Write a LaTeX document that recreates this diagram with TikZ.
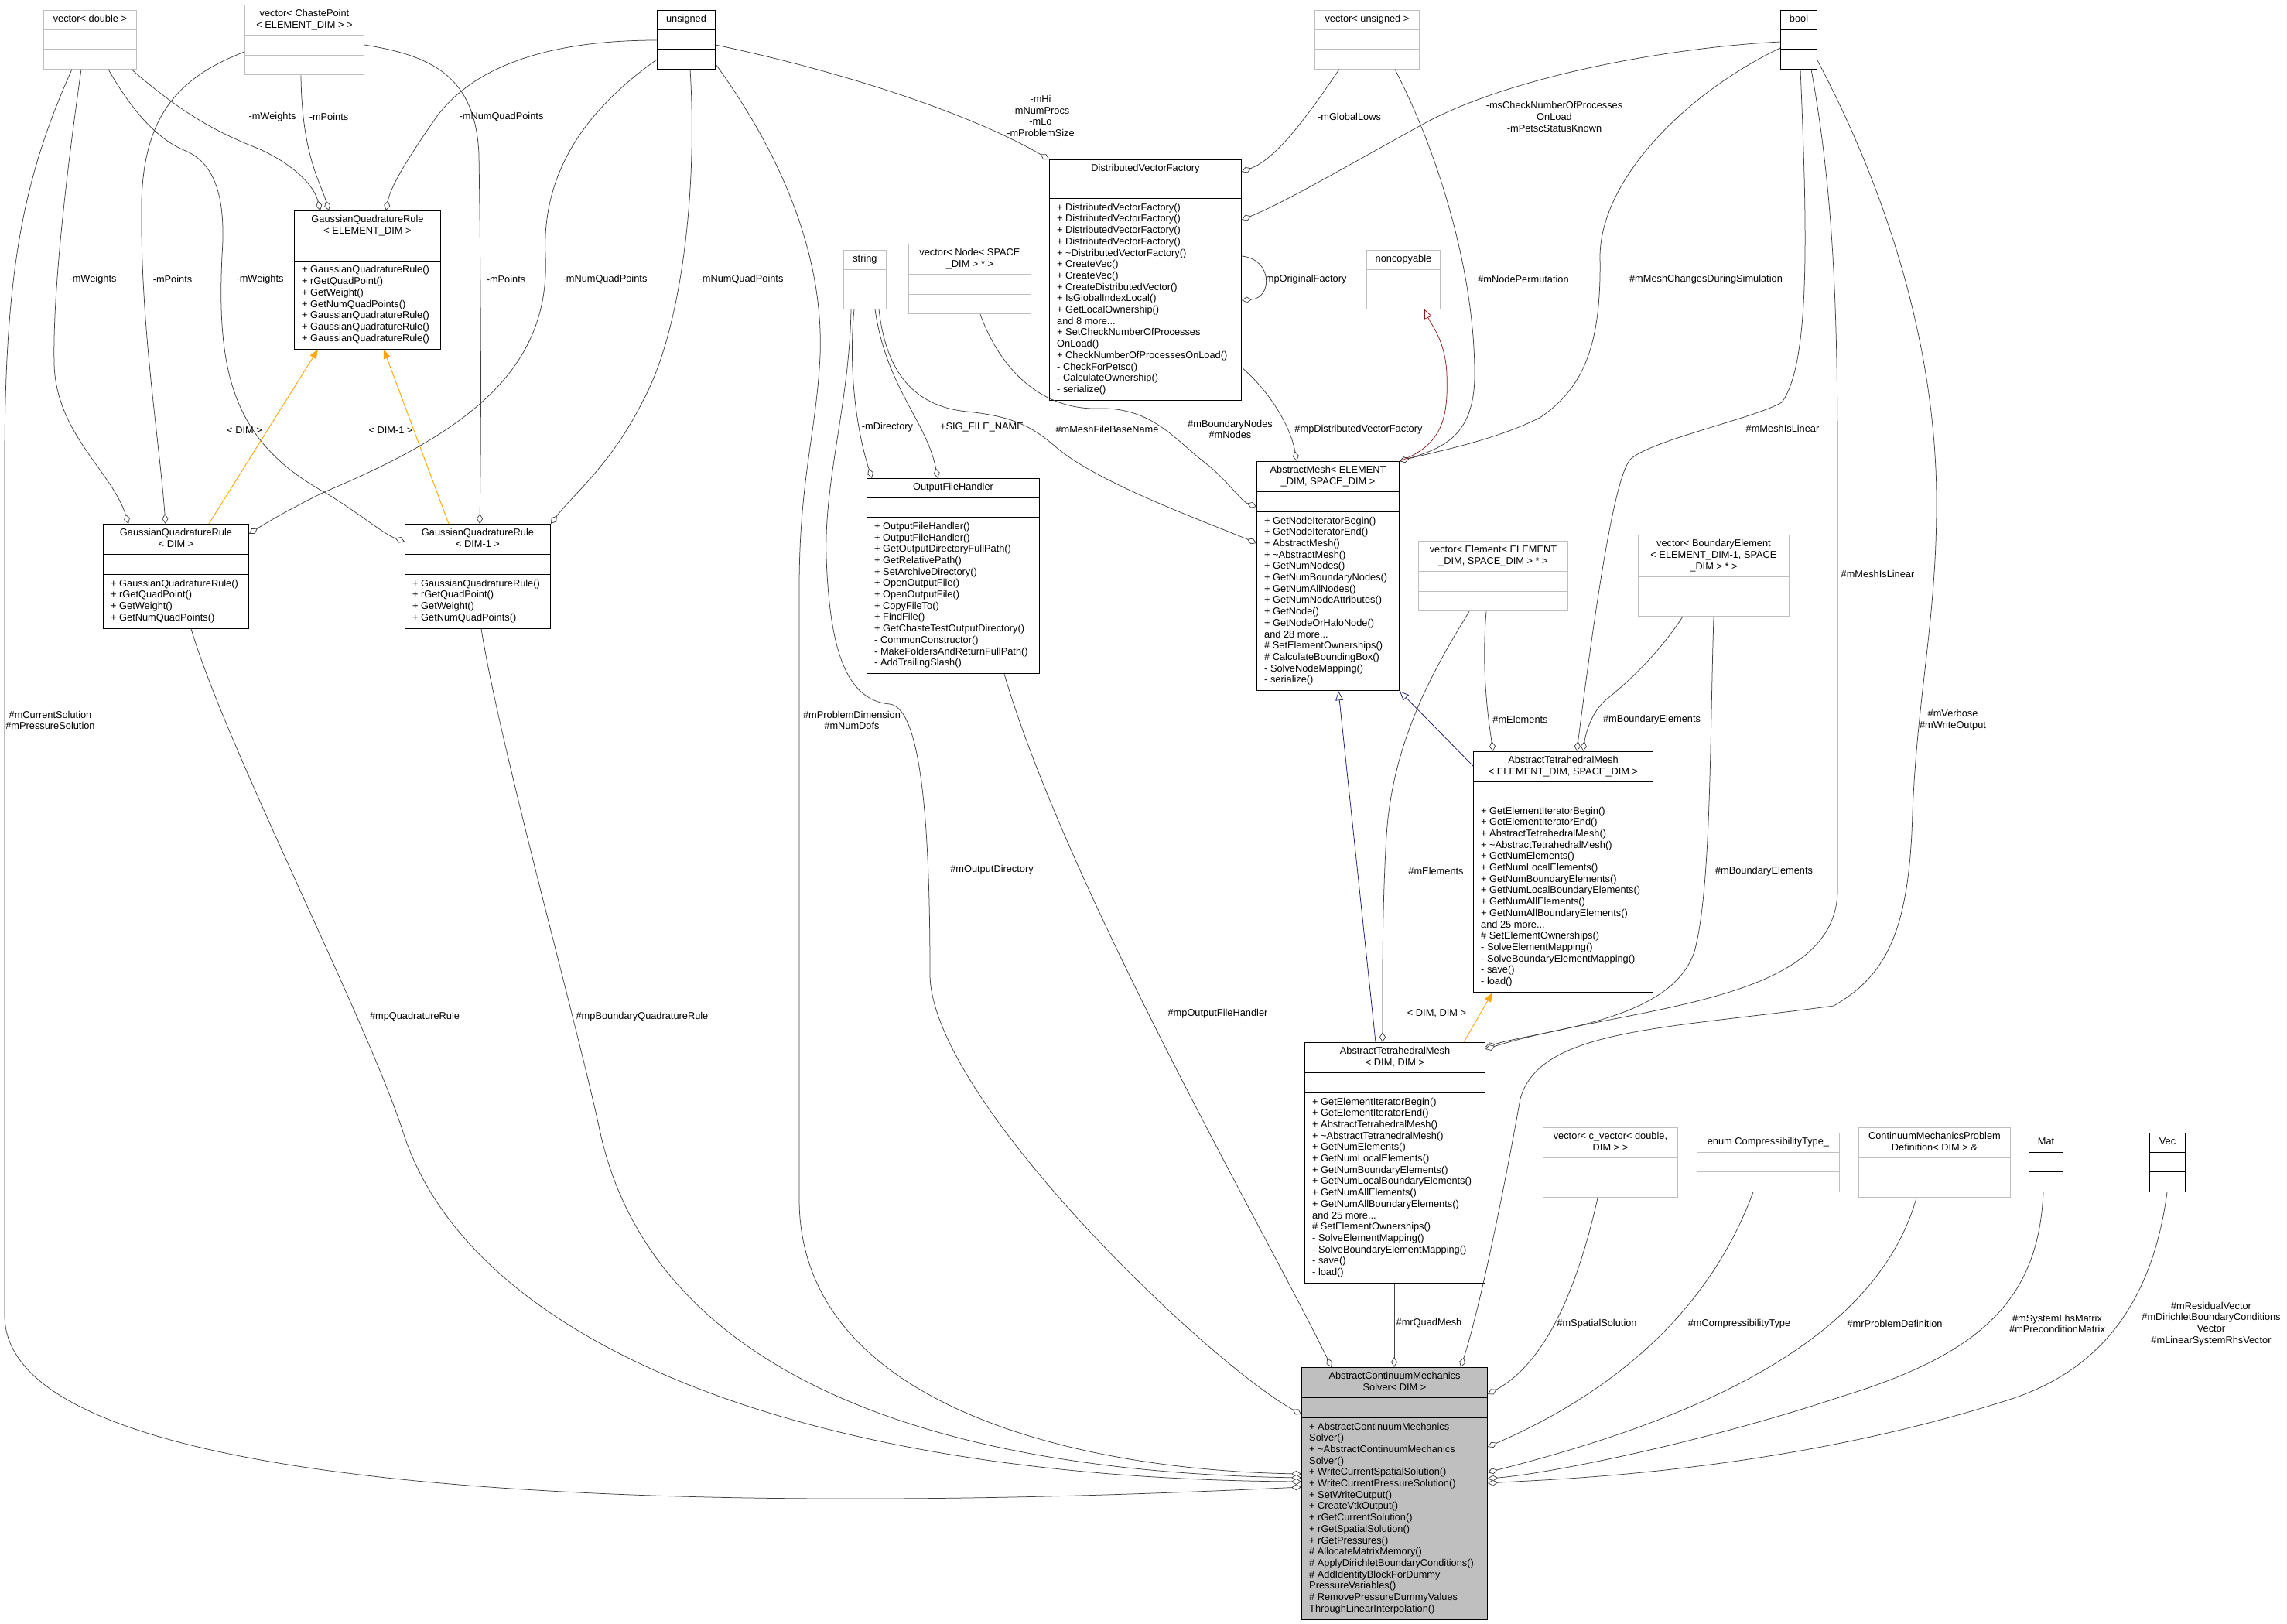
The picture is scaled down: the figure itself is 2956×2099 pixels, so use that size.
\documentclass[tikz,border=0pt]{standalone}
\usepackage{fontspec}
\setmainfont{Liberation Sans}
\usepackage{tikz}
\usetikzlibrary{arrows.meta,calc}

\definecolor{grey25}{HTML}{404040}
\definecolor{grey75}{HTML}{BFBFBF}
\definecolor{inhblue}{HTML}{191970}
\definecolor{inhred}{HTML}{8B1A1A}
\definecolor{tmplorange}{HTML}{FFA500}

% class box: [style]{name}{x}{y}{width}{title lines}{method lines}{title}{methods}
\newcommand{\umlclass}[9][cls]{%
  \pgfmathsetmacro{\ttlh}{#6*14.7+10.4}%
  \pgfmathsetmacro{\boxh}{\ttlh+25.5+max(#7,1)*14.7+10.4}%
  \node[#1, anchor=north west, minimum width=#5pt, minimum height=\boxh pt] (#2) at (#3,#4) {};
  \draw[#1line] ($(#2.north west)+(0,\ttlh)$) -- ($(#2.north east)+(0,\ttlh)$);
  \draw[#1line] ($(#2.north west)+(0,\ttlh+25.5)$) -- ($(#2.north east)+(0,\ttlh+25.5)$);
  \node[ttl] (#2-t) at (#2.north) {\begin{tabular}{@{}c@{}}#8\end{tabular}};
  \node[meth] (#2-m) at ($(#2.north west)+(0,\ttlh+25.5)$) {\begin{tabular}{@{}l@{}}#9\end{tabular}};
}

\begin{document}
\begin{tikzpicture}[x=1pt, y=-1pt,
    font=\fontsize{12.8}{14.7}\selectfont,
    cls/.style={draw=black, line width=1pt, fill=white, inner sep=0pt},
    clsline/.style={draw=black, line width=1pt},
    clsgray/.style={draw=grey75, line width=0.9pt, fill=white, inner sep=0pt},
    clsgrayline/.style={draw=grey75, line width=0.9pt},
    clsmain/.style={draw=black, line width=1pt, fill=grey75, inner sep=0pt},
    clsmainline/.style={draw=black, line width=1pt},
    ttl/.style={anchor=north, inner xsep=0pt, inner ysep=5.2pt},
    meth/.style={anchor=north west, inner xsep=10pt, inner ysep=5.2pt},
    lbl/.style={inner sep=0pt, align=center},
    agg/.style={draw=grey25, line width=0.75pt, -{Diamond[length=13pt,width=8pt,fill=white]}},
    inh/.style={draw=inhblue, line width=0.75pt, -{Triangle[length=12pt,width=10pt,fill=white]}},
    inhr/.style={draw=inhred, line width=0.75pt, -{Triangle[length=12pt,width=10pt,fill=white]}},
    tmpl/.style={draw=tmplorange, line width=0.9pt, -{Triangle[length=12pt,width=9pt]}}
]
\useasboundingbox (0,0) rectangle (2956,2099);

% top row
\umlclass[clsgray]{vdouble}{56}{13}{120}{1}{0}{vector< double >}{}
\umlclass[clsgray]{vchaste}{316}{6}{154}{2}{0}{vector< ChastePoint\\< ELEMENT\_DIM > >}{}
\umlclass{unsigned}{849}{13}{75}{1}{0}{unsigned}{}
\umlclass[clsgray]{vunsigned}{1699}{13}{135}{1}{0}{vector< unsigned >}{}
\umlclass{bool}{2301}{13}{47}{1}{0}{bool}{}

\umlclass{gqrel}{380}{272}{189}{2}{7}{GaussianQuadratureRule\\< ELEMENT\_DIM >}{%
+ GaussianQuadratureRule()\\+ rGetQuadPoint()\\+ GetWeight()\\+ GetNumQuadPoints()\\
+ GaussianQuadratureRule()\\+ GaussianQuadratureRule()\\+ GaussianQuadratureRule()}

\umlclass{dvf}{1356}{206}{248}{1}{17}{DistributedVectorFactory}{%
+ DistributedVectorFactory()\\+ DistributedVectorFactory()\\+ DistributedVectorFactory()\\
+ DistributedVectorFactory()\\+ \textasciitilde DistributedVectorFactory()\\+ CreateVec()\\+ CreateVec()\\
+ CreateDistributedVector()\\+ IsGlobalIndexLocal()\\+ GetLocalOwnership()\\and 8 more...\\
+ SetCheckNumberOfProcesses\\OnLoad()\\+ CheckNumberOfProcessesOnLoad()\\- CheckForPetsc()\\
- CalculateOwnership()\\- serialize()}

\umlclass[clsgray]{string}{1090}{323}{55}{1}{0}{string}{}
\umlclass[clsgray]{vnode}{1174}{315}{158}{2}{0}{vector< Node< SPACE\\\_DIM > * >}{}
\umlclass[clsgray]{noncopyable}{1766}{323}{95}{1}{0}{noncopyable}{}

\umlclass{gqrdim}{133}{677}{188}{2}{4}{GaussianQuadratureRule\\< DIM >}{%
+ GaussianQuadratureRule()\\+ rGetQuadPoint()\\+ GetWeight()\\+ GetNumQuadPoints()}
\umlclass{gqrdimm}{523}{677}{188}{2}{4}{GaussianQuadratureRule\\< DIM-1 >}{%
+ GaussianQuadratureRule()\\+ rGetQuadPoint()\\+ GetWeight()\\+ GetNumQuadPoints()}

\umlclass{ofh}{1120}{618}{223}{1}{13}{OutputFileHandler}{%
+ OutputFileHandler()\\+ OutputFileHandler()\\+ GetOutputDirectoryFullPath()\\+ GetRelativePath()\\
+ SetArchiveDirectory()\\+ OpenOutputFile()\\+ OpenOutputFile()\\+ CopyFileTo()\\+ FindFile()\\
+ GetChasteTestOutputDirectory()\\- CommonConstructor()\\- MakeFoldersAndReturnFullPath()\\- AddTrailingSlash()}

\umlclass{amesh}{1624}{596}{184}{2}{15}{AbstractMesh< ELEMENT\\\_DIM, SPACE\_DIM >}{%
+ GetNodeIteratorBegin()\\+ GetNodeIteratorEnd()\\+ AbstractMesh()\\+ \textasciitilde AbstractMesh()\\
+ GetNumNodes()\\+ GetNumBoundaryNodes()\\+ GetNumAllNodes()\\+ GetNumNodeAttributes()\\+ GetNode()\\
+ GetNodeOrHaloNode()\\and 28 more...\\\# SetElementOwnerships()\\\# CalculateBoundingBox()\\
- SolveNodeMapping()\\- serialize()}

\umlclass[clsgray]{velem}{1833}{699}{193}{2}{0}{vector< Element< ELEMENT\\\_DIM, SPACE\_DIM > * >}{}
\umlclass[clsgray]{vbelem}{2117}{691}{195}{3}{0}{vector< BoundaryElement\\< ELEMENT\_DIM-1, SPACE\\\_DIM > * >}{}

\umlclass{atmel}{1904}{971}{232}{2}{16}{AbstractTetrahedralMesh\\< ELEMENT\_DIM, SPACE\_DIM >}{%
+ GetElementIteratorBegin()\\+ GetElementIteratorEnd()\\+ AbstractTetrahedralMesh()\\
+ \textasciitilde AbstractTetrahedralMesh()\\+ GetNumElements()\\+ GetNumLocalElements()\\
+ GetNumBoundaryElements()\\+ GetNumLocalBoundaryElements()\\+ GetNumAllElements()\\
+ GetNumAllBoundaryElements()\\and 25 more...\\\# SetElementOwnerships()\\- SolveElementMapping()\\
- SolveBoundaryElementMapping()\\- save()\\- load()}

\umlclass{atmdim}{1686}{1347}{233}{2}{16}{AbstractTetrahedralMesh\\< DIM, DIM >}{%
+ GetElementIteratorBegin()\\+ GetElementIteratorEnd()\\+ AbstractTetrahedralMesh()\\
+ \textasciitilde AbstractTetrahedralMesh()\\+ GetNumElements()\\+ GetNumLocalElements()\\
+ GetNumBoundaryElements()\\+ GetNumLocalBoundaryElements()\\+ GetNumAllElements()\\
+ GetNumAllBoundaryElements()\\and 25 more...\\\# SetElementOwnerships()\\- SolveElementMapping()\\
- SolveBoundaryElementMapping()\\- save()\\- load()}

\umlclass[clsgray]{vcvec}{1994}{1457}{174}{2}{0}{vector< c\_vector< double,\\DIM > >}{}
\umlclass[clsgray]{enum}{2193}{1464}{184}{1}{0}{enum CompressibilityType\_}{}
\umlclass[clsgray]{cmpd}{2402}{1457}{196}{2}{0}{ContinuumMechanicsProblem\\Definition< DIM > \&}{}
\umlclass{mat}{2622}{1464}{44}{1}{0}{Mat}{}
\umlclass{vec}{2778}{1464}{46}{1}{0}{Vec}{}

\umlclass[clsmain]{solver}{1682}{1767}{240}{2}{17}{AbstractContinuumMechanics\\Solver< DIM >}{%
+ AbstractContinuumMechanics\\Solver()\\+ \textasciitilde AbstractContinuumMechanics\\Solver()\\
+ WriteCurrentSpatialSolution()\\+ WriteCurrentPressureSolution()\\+ SetWriteOutput()\\
+ CreateVtkOutput()\\+ rGetCurrentSolution()\\+ rGetSpatialSolution()\\+ rGetPressures()\\
\# AllocateMatrixMemory()\\\# ApplyDirichletBoundaryConditions()\\\# AddIdentityBlockForDummy\\
PressureVariables()\\\# RemovePressureDummyValues\\ThroughLinearInterpolation()}

% quadrature rules
\draw[agg] (vdouble.south -| 170,0) .. controls (250,160) and (300,178) .. (336,193) .. controls (380,213) and (406,240) .. (gqrel.north -| 414,0);
\draw[agg] (vchaste.south -| 389,0) .. controls (390,200) and (414,235) .. (gqrel.north -| 425,0);
\draw[agg] (unsigned.west |- 0,52) .. controls (700,52) and (610,90) .. (565,150) .. controls (530,200) and (505,240) .. (gqrel.north -| 499,0);
\draw[agg] (vdouble.south -| 105,0) .. controls (85,230) and (68,380) .. (70,470) .. controls (72,560) and (145,610) .. (gqrdim.north -| 166,0);
\draw[agg] (vchaste.west |- 0,67) .. controls (230,100) and (186,150) .. (183,260) .. controls (181,420) and (205,560) .. (gqrdim.north -| 214,0);
\draw[agg] (unsigned.west |- 0,77) .. controls (760,140) and (700,220) .. (705,330) .. controls (712,480) and (600,560) .. (419,636) .. controls (380,655) and (345,675) .. (gqrdim.east |- 0,690);
\draw[agg] (vdouble.south -| 140,0) .. controls (180,160) and (215,185) .. (240,195) .. controls (280,212) and (292,260) .. (287,330) .. controls (280,480) and (300,570) .. (419,636) .. controls (460,660) and (495,690) .. (gqrdimm.west |- 0,700);
\draw[agg] (vchaste.east |- 0,58) .. controls (560,72) and (615,100) .. (619,200) .. controls (622,400) and (622,560) .. (gqrdimm.north -| 620,0);
\draw[agg] (unsigned.south -| 892,0) .. controls (902,250) and (880,430) .. (830,520) .. controls (790,600) and (740,640) .. (gqrdimm.north east);
\draw[tmpl] (gqrdim.north -| 270,0) -- (gqrel.south -| 411,0);
\draw[tmpl] (gqrdimm.north -| 580,0) -- (gqrel.south -| 496,0);

% distributed vector factory
\draw[agg] (unsigned.east |- 0,58) .. controls (1100,95) and (1260,150) .. (dvf.north west);
\draw[agg] (vunsigned.south -| 1731,0) .. controls (1690,150) and (1650,205) .. (dvf.east |- 0,222);
\draw[agg] (bool.west |- 0,54) .. controls (2150,62) and (1950,100) .. (1840,160) .. controls (1740,215) and (1660,262) .. (dvf.east |- 0,284);
\draw[agg] (dvf.east |- 0,331) .. controls (1645,335) and (1645,385) .. (dvf.east |- 0,388);

% abstract mesh
\draw[agg] (dvf.east |- 0,475) .. controls (1640,505) and (1668,550) .. (amesh.north -| 1676,0);
\draw[agg] (vnode.south -| 1267,0) .. controls (1290,470) and (1340,530) .. (1420,528) .. controls (1490,526) and (1520,570) .. (1560,600) .. controls (1585,620) and (1605,648) .. (amesh.west |- 0,655);
\draw[agg] (string.south -| 1136,0) .. controls (1145,480) and (1180,525) .. (1250,532) .. controls (1310,538) and (1335,552) .. (1365,578) .. controls (1420,625) and (1560,675) .. (amesh.west |- 0,702);
\draw[agg] (vunsigned.south -| 1803,0) .. controls (1860,200) and (1905,350) .. (1906,480) .. controls (1907,560) and (1870,578) .. (amesh.north east);
\draw[agg] (bool.west |- 0,62) .. controls (2180,120) and (2070,230) .. (2068,330) .. controls (2070,440) and (2050,500) .. (1990,540) .. controls (1930,570) and (1850,585) .. (amesh.north east);
\draw[inhr] (amesh.north east) .. controls (1865,575) and (1872,540) .. (1870,483) .. controls (1868,440) and (1850,420) .. (noncopyable.south -| 1841,0);
\draw[inh] (atmel.west |- 0,990) -- (amesh.south east);
\draw[inh] (atmdim.north -| 1778,0) -- (amesh.south -| 1730,0);

% output file handler
\draw[agg] (string.south -| 1104,0) .. controls (1096,480) and (1108,560) .. (ofh.north -| 1127,0);
\draw[agg] (string.south -| 1131,0) .. controls (1145,500) and (1198,545) .. (ofh.north -| 1212,0);

% tetrahedral meshes
\draw[agg] (velem.south -| 1921,0) .. controls (1915,860) and (1922,920) .. (atmel.north -| 1930,0);
\draw[agg] (vbelem.south -| 2175,0) .. controls (2140,850) and (2100,885) .. (2075,905) .. controls (2058,920) and (2050,945) .. (atmel.north -| 2046,0);
\draw[agg] (bool.south -| 2327,0) .. controls (2336,300) and (2340,470) .. (2303,520) .. controls (2270,540) and (2130,570) .. (2107,594) .. controls (2085,620) and (2060,800) .. (atmel.north -| 2038,0);
\draw[tmpl] (atmdim.north -| 1892,0) -- (atmel.south -| 1929,0);
\draw[agg] (velem.south -| 1899,0) .. controls (1850,870) and (1800,960) .. (1792,1080) .. controls (1786,1180) and (1787,1280) .. (atmdim.north -| 1787,0);
\draw[agg] (vbelem.south -| 2215,0) .. controls (2210,950) and (2212,1150) .. (2190,1230) .. controls (2160,1320) and (2000,1330) .. (atmdim.east |- 0,1353);
\draw[agg] (bool.south -| 2341,0) .. controls (2370,250) and (2375,400) .. (2375,600) -- (2375,1150) .. controls (2375,1300) and (2100,1300) .. (atmdim.east |- 0,1356);

% solver
\draw[agg] (atmdim.south -| 1802,0) -- (solver.north -| 1802,0);
\draw[agg] (ofh.south -| 1298,0) .. controls (1380,1150) and (1640,1600) .. (solver.north -| 1721,0);
\draw[agg] (string.south -| 1100,0) .. controls (1098,520) and (1065,620) .. (1068,720) .. controls (1072,830) and (1090,905) .. (1150,910) .. controls (1195,915) and (1202,1100) .. (1202,1260) .. controls (1204,1420) and (1560,1760) .. (solver.west |- 0,1828);
\draw[agg] (unsigned.east |- 0,83) .. controls (1010,200) and (1065,330) .. (1060,460) .. controls (1055,560) and (1033,620) .. (1033,760) -- (1033,1550) .. controls (1033,1820) and (1400,1900) .. (solver.west |- 0,1905);
\draw[agg] (gqrdimm.south -| 622,0) .. controls (645,960) and (745,1320) .. (775,1460) .. controls (830,1720) and (1100,1900) .. (solver.west |- 0,1910);
\draw[agg] (gqrdim.south -| 247,0) .. controls (290,960) and (470,1310) .. (520,1460) .. controls (600,1720) and (1000,1910) .. (solver.west |- 0,1915);
\draw[agg] (vdouble.south -| 93,0) .. controls (30,230) and (6,350) .. (6,600) -- (6,1700) .. controls (6,2000) and (1400,1935) .. (solver.west |- 0,1922);
\draw[agg] (bool.east |- 0,78) .. controls (2440,250) and (2503,450) .. (2503,650) .. controls (2503,800) and (2478,900) .. (2472,1050) .. controls (2468,1200) and (2440,1260) .. (2370,1300) .. controls (2150,1330) and (1990,1330) .. (1965,1420) .. controls (1940,1560) and (1910,1700) .. (solver.north -| 1888,0);
\draw[agg] (vcvec.south -| 2065,0) .. controls (2040,1660) and (2000,1760) .. (solver.east |- 0,1802);
\draw[agg] (enum.south -| 2266,0) .. controls (2200,1720) and (2050,1815) .. (solver.east |- 0,1870);
\draw[agg] (cmpd.south -| 2477,0) .. controls (2420,1750) and (2150,1845) .. (solver.east |- 0,1903);
\draw[agg] (mat.south -| 2641,0) .. controls (2635,1680) and (2560,1750) .. (2380,1805) .. controls (2200,1865) and (2000,1905) .. (solver.east |- 0,1911);
\draw[agg] (vec.south -| 2801,0) .. controls (2780,1700) and (2700,1775) .. (2600,1808) .. controls (2300,1905) and (2000,1912) .. (solver.east |- 0,1917);

% edge labels
\node[lbl] (lw1) at (352,151) {-mWeights};
\node[lbl] (lp1) at (425,151) {-mPoints};
\node[lbl] (lq1) at (648,151) {-mNumQuadPoints};
\node[lbl] (lw2) at (120,361) {-mWeights};
\node[lbl] (lp2) at (223,361) {-mPoints};
\node[lbl] (lw3) at (336,361) {-mWeights};
\node[lbl] (lp3) at (654,361) {-mPoints};
\node[lbl] (lq2) at (782,361) {-mNumQuadPoints};
\node[lbl] (lq3) at (958,361) {-mNumQuadPoints};
\node[lbl] (lhi) at (1345,150) {-mHi\\-mNumProcs\\-mLo\\-mProblemSize};
\node[lbl] (lgl) at (1744,151) {-mGlobalLows};
\node[lbl] (lck) at (2009,151) {-msCheckNumberOfProcesses\\OnLoad\\-mPetscStatusKnown};
\node[lbl] (lorig) at (1686,361) {-mpOriginalFactory};
\node[lbl] (lperm) at (1969,361) {\#mNodePermutation};
\node[lbl] (lchg) at (2205,361) {\#mMeshChangesDuringSimulation};
\node[lbl] (ldir) at (1147,552) {-mDirectory};
\node[lbl] (lsig) at (1269,552) {+SIG\_FILE\_NAME};
\node[lbl] (lmfb) at (1431,555) {\#mMeshFileBaseName};
\node[lbl] (lbn) at (1590,555) {\#mBoundaryNodes\\\#mNodes};
\node[lbl] (ldvf) at (1756,555) {\#mpDistributedVectorFactory};
\node[lbl] (llin1) at (2304,554) {\#mMeshIsLinear};
\node[lbl] (llin2) at (2427,742) {\#mMeshIsLinear};
\node[lbl] (lel1) at (1965,930) {\#mElements};
\node[lbl] (lbe1) at (2135,930) {\#mBoundaryElements};
\node[lbl] (lel2) at (1856,1126) {\#mElements};
\node[lbl] (lbe2) at (2280,1126) {\#mBoundaryElements};
\node[lbl] (lcur) at (65,931) {\#mCurrentSolution\\\#mPressureSolution};
\node[lbl] (ldim) at (1101,931) {\#mProblemDimension\\\#mNumDofs};
\node[lbl] (lverb) at (2524,931) {\#mVerbose\\\#mWriteOutput};
\node[lbl] (lout) at (1282,1124) {\#mOutputDirectory};
\node[lbl] (ltd) at (316,556) {< DIM >};
\node[lbl] (ltd1) at (505,556) {< DIM-1 >};
\node[lbl] (lqr) at (536,1314) {\#mpQuadratureRule};
\node[lbl] (lbqr) at (830,1314) {\#mpBoundaryQuadratureRule};
\node[lbl] (lofh) at (1574,1310) {\#mpOutputFileHandler};
\node[lbl] (ltdd) at (1857,1310) {< DIM, DIM >};
\node[lbl] (lqm) at (1847,1710) {\#mrQuadMesh};
\node[lbl] (lss) at (2064,1711) {\#mSpatialSolution};
\node[lbl] (lct) at (2248,1711) {\#mCompressibilityType};
\node[lbl] (lpd) at (2449,1711) {\#mrProblemDefinition};
\node[lbl] (lmat) at (2659,1711) {\#mSystemLhsMatrix\\\#mPreconditionMatrix};
\node[lbl] (lvec) at (2858,1711) {\#mResidualVector\\\#mDirichletBoundaryConditions\\Vector\\\#mLinearSystemRhsVector};
\end{tikzpicture}
\end{document}
